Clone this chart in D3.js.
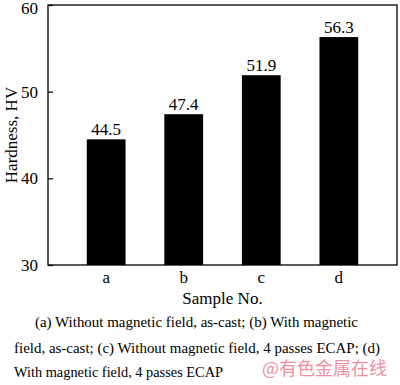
<!DOCTYPE html>
<html>
<head>
<meta charset="utf-8">
<script src="https://cdn.jsdelivr.net/npm/d3@7"></script>
<style>
  body { margin: 0; background: #fff; }
  svg { display: block; }
  svg text { font-family: 'Liberation Serif', 'DejaVu Serif', serif; }
</style>
</head>
<body>
<svg id="chart" width="400" height="385"></svg>
<script>
// data
const samples = ["a", "b", "c", "d"];
const hardness = [44.5, 47.4, 51.9, 56.3];
const yTicks = [30, 40, 50, 60];
const captionLines = [
  "(a) Without magnetic field, as-cast; (b) With magnetic",
  "field, as-cast; (c) Without magnetic field, 4 passes ECAP; (d)",
  "With magnetic field, 4 passes ECAP"
];

const serif = "'Liberation Serif', serif";
const width = 400;
const margin = {top: 5, right: 3, left: 48};
const plotBottom = 265;

const svg = d3.select("#chart");

// scales
const xScale = d3.scaleBand()
  .domain(samples)
  .range([margin.left, width - margin.right])
  .padding(0.5);

const yScale = d3.scaleLinear()
  .domain([30, 60])
  .range([plotBottom, margin.top]);

// bars
svg.selectAll("rect.bar")
  .data(hardness)
  .enter()
  .append("rect")
  .attr("class", "bar")
  .attr("x", (d, i) => xScale(samples[i]))
  .attr("width", xScale.bandwidth())
  .attr("y", d => yScale(d))
  .attr("height", d => plotBottom - yScale(d))
  .attr("fill", "#000");

// value labels on top of bars
svg.selectAll("text.val")
  .data(hardness)
  .enter()
  .append("text")
  .attr("class", "val")
  .attr("x", (d, i) => xScale(samples[i]) + xScale.bandwidth() / 2)
  .attr("y", d => yScale(d) - 4)
  .attr("text-anchor", "middle")
  .attr("font-family", serif)
  .attr("font-size", 17)
  .text(d => d.toFixed(1));

// frame
svg.append("rect")
  .attr("x", margin.left)
  .attr("y", margin.top)
  .attr("width", width - margin.right - margin.left)
  .attr("height", plotBottom - margin.top)
  .attr("fill", "none")
  .attr("stroke", "#000")
  .attr("stroke-width", 1.3);

// y axis, ticks pointing inward
const yAxis = d3.axisLeft(yScale)
  .tickValues(yTicks)
  .tickSizeInner(-5)
  .tickSizeOuter(0)
  .tickPadding(10);

const gy = svg.append("g")
  .attr("transform", `translate(${margin.left},0)`)
  .call(yAxis)
  .attr("font-family", serif)
  .attr("font-size", 17);
gy.select(".domain").remove();
gy.selectAll("line").attr("stroke-width", 1.2);
gy.selectAll("text").attr("fill", "#000");
// top label sits a little lower so it stays inside the picture
gy.selectAll("text").filter(d => d === 60).attr("dy", "0.5em");

// x axis labels
const xAxis = d3.axisBottom(xScale).tickSize(0).tickPadding(6);
const gx = svg.append("g")
  .attr("transform", `translate(0,${plotBottom})`)
  .call(xAxis)
  .attr("font-family", serif)
  .attr("font-size", 17);
gx.select(".domain").remove();
gx.selectAll("text").attr("fill", "#000");

// axis titles
svg.append("text")
  .attr("x", (margin.left + width - margin.right) / 2)
  .attr("y", 304)
  .attr("text-anchor", "middle")
  .attr("font-family", serif)
  .attr("font-size", 17)
  .text("Sample No.");

svg.append("text")
  .attr("transform", `translate(17,${(margin.top + plotBottom) / 2}) rotate(-90)`)
  .attr("text-anchor", "middle")
  .attr("font-family", serif)
  .attr("font-size", 17)
  .text("Hardness, HV");

// caption below the figure
const captionX = [35, 14, 14];
const captionY = [327, 353, 377];
const captionLen = [323, 366, 209];
svg.selectAll("text.cap")
  .data(captionLines)
  .enter()
  .append("text")
  .attr("class", "cap")
  .attr("x", (d, i) => captionX[i])
  .attr("y", (d, i) => captionY[i])
  .attr("textLength", (d, i) => captionLen[i])
  .attr("lengthAdjust", "spacingAndGlyphs")
  .attr("font-family", serif)
  .attr("font-size", 14)
  .text(d => d);

// watermark
svg.append("text")
  .attr("x", 262)
  .attr("y", 375)
  .attr("fill", "#f0909f")
  .attr("font-family", "'Noto Sans CJK SC', sans-serif")
  .style("font-family", "'Noto Sans CJK SC', sans-serif")
  .attr("font-size", 18)
  .text("@有色金属在线");
</script>
</body>
</html>
